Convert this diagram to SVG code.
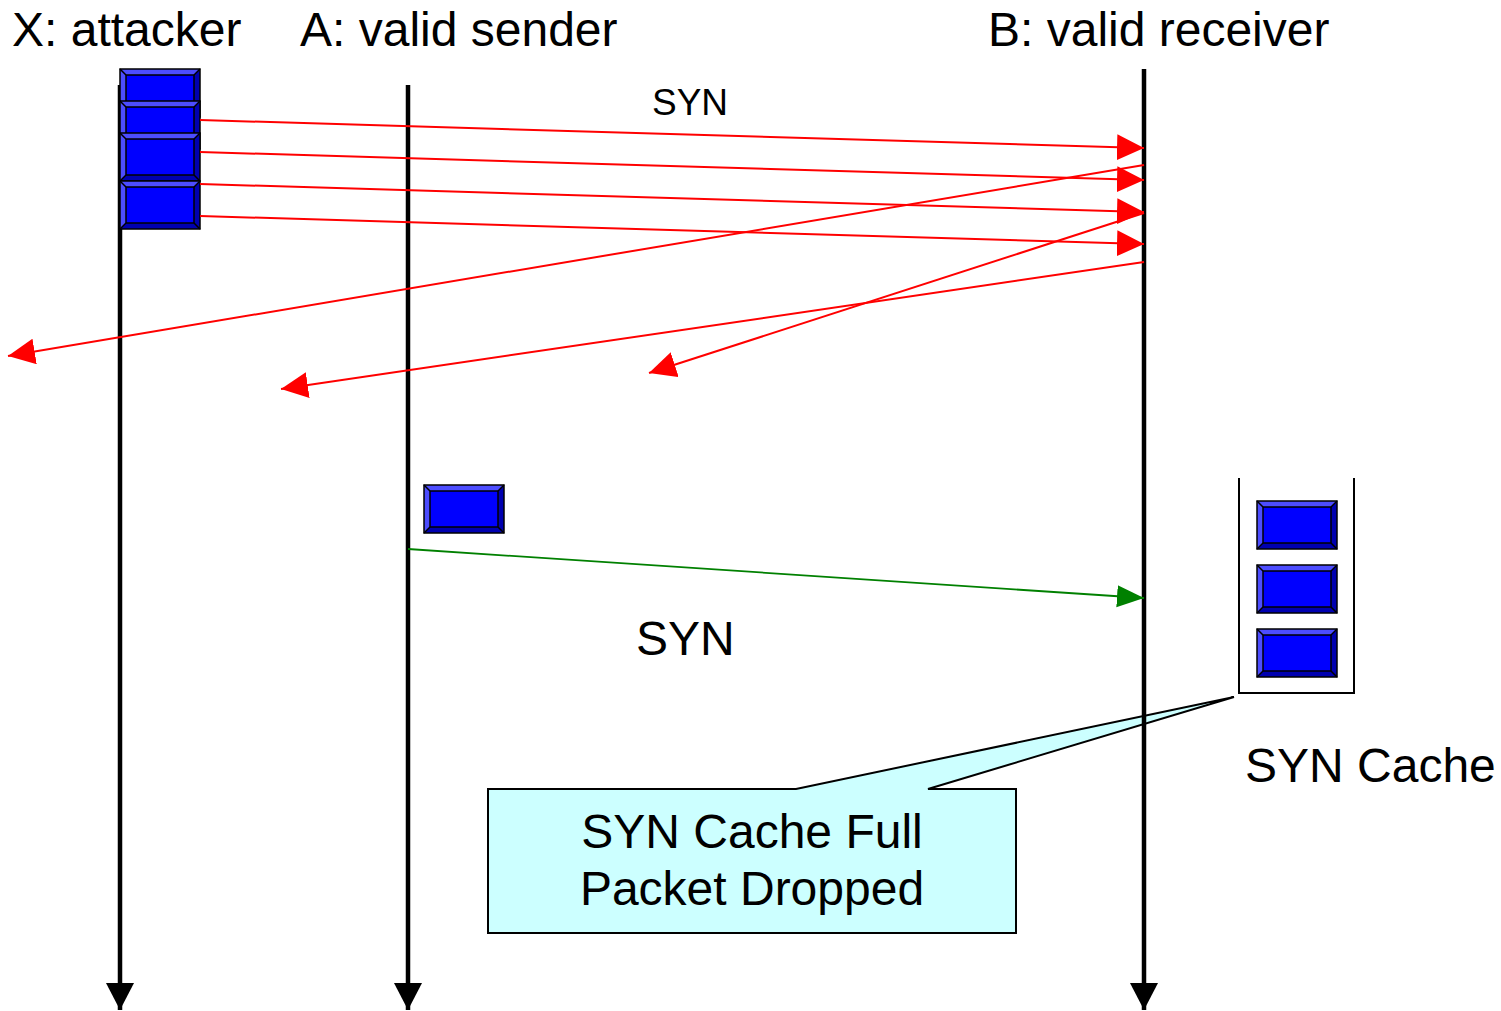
<svg xmlns="http://www.w3.org/2000/svg" width="1501" height="1011" viewBox="0 0 1501 1011">
  <defs>
    <style>
      text { font-family: "Liberation Sans", Arial, sans-serif; fill: #000; }
      .big { font-size: 48px; }
      .small { font-size: 37px; }
      .life { stroke: #000; stroke-width: 4.5; fill: none; }
      .syn { stroke: #ff0000; stroke-width: 2; fill: none; }
      .ok { stroke: #008000; stroke-width: 1.8; fill: none; }
      .face { fill: #0000ff; }
      .lt { fill: #4d4dff; }
      .dk { fill: #0000b0; }
      .edge { fill: none; stroke: #000; stroke-width: 1.5; }
    </style>
    <marker id="headRed" markerWidth="28" markerHeight="26" refX="27" refY="13" orient="auto" markerUnits="userSpaceOnUse">
      <path d="M0,0 L27,13 L0,26 Z" fill="#ff0000"/>
    </marker>
    <marker id="headGreen" markerWidth="28" markerHeight="26" refX="27" refY="13" orient="auto" markerUnits="userSpaceOnUse">
      <path d="M0,2 L27,13 L0,24 Z" fill="#008000"/>
    </marker>
    <marker id="headBlack" markerWidth="30" markerHeight="28" refX="27" refY="14" orient="auto" markerUnits="userSpaceOnUse">
      <path d="M0,0 L27,14 L0,28 Z" fill="#000"/>
    </marker>
    <!-- bevelled packet, 80 x 48 -->
    <g id="packet">
      <rect x="0" y="0" width="80" height="48" class="face"/>
      <polygon points="0,0 80,0 74,6 6,6" class="lt"/>
      <polygon points="0,0 6,6 6,42 0,48" class="lt"/>
      <polygon points="80,0 80,48 74,42 74,6" class="dk"/>
      <polygon points="0,48 6,42 74,42 80,48" class="dk"/>
      <rect x="6" y="6" width="68" height="36" class="edge"/>
      <line x1="0" y1="0" x2="6" y2="6" class="edge"/>
      <line x1="80" y1="0" x2="74" y2="6" class="edge"/>
      <line x1="0" y1="48" x2="6" y2="42" class="edge"/>
      <line x1="80" y1="48" x2="74" y2="42" class="edge"/>
      <rect x="0" y="0" width="80" height="48" class="edge"/>
    </g>
  </defs>

  <rect width="1501" height="1011" fill="#fff"/>

  <!-- callout sits beneath the lifelines -->
  <g id="callout">
    <path d="M488,789 L796,789 L1234,697 L928,789 L1016,789 L1016,933 L488,933 Z" fill="#ccffff" stroke="#000" stroke-width="2"/>
    <text class="big" x="752" y="848" text-anchor="middle">SYN Cache Full</text>
    <text class="big" x="752" y="905" text-anchor="middle">Packet Dropped</text>
  </g>

  <!-- lifelines -->
  <g id="lifeline-X">
    <line x1="120" y1="85" x2="120" y2="1010" class="life" marker-end="url(#headBlack)"/>
    <text class="big" x="12" y="46">X: attacker</text>
  </g>
  <g id="lifeline-A">
    <line x1="408" y1="85" x2="408" y2="1010" class="life" marker-end="url(#headBlack)"/>
    <text class="big" x="300" y="46">A: valid sender</text>
  </g>
  <g id="lifeline-B">
    <line x1="1144" y1="69" x2="1144" y2="1010" class="life" marker-end="url(#headBlack)"/>
    <text class="big" x="988" y="46">B: valid receiver</text>
  </g>

  <!-- attacker's spoofed SYN packets -->
  <g id="attacker-packets">
    <use href="#packet" x="120" y="69"/>
    <use href="#packet" x="120" y="101"/>
    <use href="#packet" x="120" y="133"/>
    <use href="#packet" x="120" y="181"/>
  </g>

  <!-- sender's packet -->
  <g id="sender-packet">
    <use href="#packet" x="424" y="485"/>
  </g>

  <!-- SYN cache on the receiver -->
  <g id="syn-cache">
    <path d="M1239,478 L1239,693 L1354,693 L1354,478" fill="none" stroke="#000" stroke-width="2"/>
    <use href="#packet" x="1257" y="501"/>
    <use href="#packet" x="1257" y="565"/>
    <use href="#packet" x="1257" y="629"/>
    <text class="big" x="1245" y="782">SYN Cache</text>
  </g>

  <!-- message connectors -->
  <g id="connectors">
    <line x1="200" y1="120" x2="1144" y2="148" class="syn" marker-end="url(#headRed)"/>
    <line x1="200" y1="152" x2="1144" y2="180" class="syn" marker-end="url(#headRed)"/>
    <line x1="200" y1="184" x2="1144" y2="212" class="syn" marker-end="url(#headRed)"/>
    <line x1="200" y1="216" x2="1144" y2="244" class="syn" marker-end="url(#headRed)"/>

    <line x1="1144" y1="165" x2="8" y2="356" class="syn" marker-end="url(#headRed)"/>
    <line x1="1144" y1="213" x2="649" y2="373" class="syn" marker-end="url(#headRed)"/>
    <line x1="1144" y1="262" x2="281" y2="389" class="syn" marker-end="url(#headRed)"/>

    <line x1="408" y1="549" x2="1144" y2="598" class="ok" marker-end="url(#headGreen)"/>

    <text class="small" x="652" y="115">SYN</text>
    <text class="big" x="636" y="655">SYN</text>
  </g>
</svg>
